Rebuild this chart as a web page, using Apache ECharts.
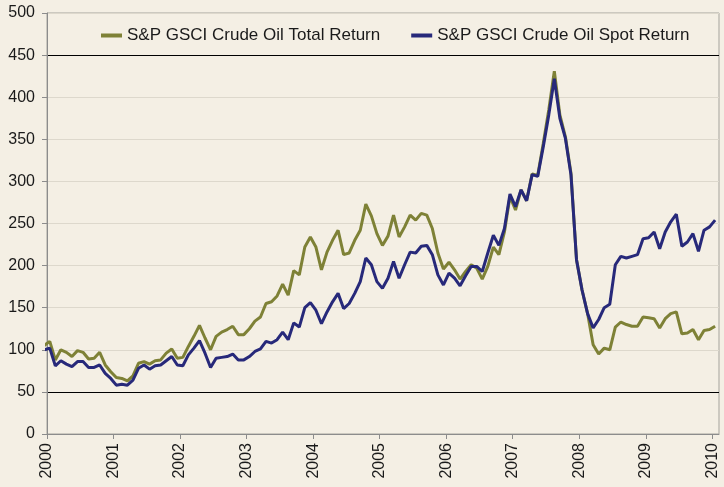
<!DOCTYPE html>
<html>
<head>
<meta charset="utf-8">
<script src="https://cdn.jsdelivr.net/npm/echarts@6/dist/echarts.min.js"></script>
<style>
  html, body { margin: 0; padding: 0; background: #f4efe4; }
  #chart { width: 724px; height: 487px; }
</style>
</head>
<body>
<div id="chart"></div>
<script>
// monthly index levels, first value is the base just before Jan 2000
const totalReturn = [105,
  110, 88, 100, 97, 92, 99, 97, 89, 90, 97, 82, 74, 67, 66, 63, 69, 84, 86, 83, 87, 88,
  96, 101, 90, 91, 104, 116, 129, 114, 100, 116, 121, 124, 128, 118, 118, 125, 134, 139,
  155, 157, 164, 178, 165, 194, 189, 222, 234, 222, 195, 216, 230, 242, 213, 215, 230, 242, 273, 259, 238,
  224, 235, 260, 234, 246, 260, 254, 262, 260, 244, 215, 196, 204, 195, 184, 193, 201, 197, 184,
  199, 222, 213, 240, 282, 266, 290, 277, 309, 307, 345, 385, 431, 379, 353, 310, 207, 171, 143,
  106, 95, 102, 100, 127, 133, 130, 128, 128, 139, 138, 137, 126, 137, 143, 145, 119, 120, 124, 112, 123, 124, 128];

const spotReturn = [100,
  102, 81, 87, 83, 80, 86, 86, 79, 79, 82, 72, 66, 58, 59, 58, 64, 78, 82, 77, 81, 82,
  87, 92, 82, 81, 94, 102, 111, 96, 79, 90, 91, 92, 95, 88, 88, 92, 98, 101,
  110, 108, 112, 121, 112, 132, 127, 150, 156, 147, 131, 145, 157, 167, 149, 155, 167, 181, 209, 201, 181,
  173, 185, 205, 185, 201, 216, 215, 223, 224, 213, 189, 177, 191, 185, 176, 188, 199, 199, 193,
  215, 236, 224, 244, 285, 270, 290, 277, 308, 306, 341, 379, 422, 375, 351, 308, 207, 171, 143,
  126, 136, 150, 154, 201, 211, 209, 211, 213, 232, 233, 240, 220, 240, 252, 261, 223, 228, 238, 217, 242, 246, 254];

const yearTicks = [2000, 2001, 2002, 2003, 2004, 2005, 2006, 2007, 2008, 2009, 2010];
const seriesNames = ['S&P GSCI Crude Oil Total Return', 'S&P GSCI Crude Oil Spot Return'];

// mid-month positions in years
const toPoints = (arr) => arr.map((v, i) => [2000 + (i - 0.5) / 12, v]);

// gridlines at 50 and 450 are black, the rest pale
const gridColors = yearTicks.map((_, i) => (i === 1 || i === 9) ? '#000000' : '#ddd8cc');

const font = '"Liberation Sans", Arial, sans-serif';

let myecharts = echarts.init(document.getElementById('chart'));
myecharts.setOption({
  backgroundColor: '#f4efe4',
  animation: false,
  textStyle: { fontFamily: font },
  legend: {
    top: 22,
    left: 96,
    itemWidth: 21,
    itemHeight: 4,
    itemGap: 31,
    icon: 'rect',
    textStyle: { fontSize: 17, color: '#1a1a1a', fontFamily: font },
    data: seriesNames,
  },
  grid: {
    left: 47,
    right: 5,
    top: 13,
    bottom: 53,
    show: true,
    borderColor: '#a5a39c',
    borderWidth: 1,
  },
  xAxis: {
    type: 'value',
    min: 2000,
    max: 2010.1,
    interval: 1,
    splitLine: { show: false },
    axisLine: { lineStyle: { color: '#8c8c8c' } },
    axisTick: { show: true, length: 5, inside: false, customValues: yearTicks, lineStyle: { color: '#8c8c8c' } },
    axisLabel: {
      rotate: 90,
      margin: 9,
      fontSize: 16,
      color: '#1a1a1a',
      customValues: yearTicks,
      formatter: (v) => String(Math.round(v)),
    },
  },
  yAxis: {
    type: 'value',
    min: 0,
    max: 500,
    interval: 50,
    axisLine: { show: true, lineStyle: { color: '#8c8c8c' } },
    axisTick: { show: true, length: 5, lineStyle: { color: '#8c8c8c' } },
    axisLabel: { fontSize: 16, color: '#1a1a1a', margin: 12 },
    splitLine: { show: true, lineStyle: { color: gridColors, width: 1 } },
  },
  series: [
    {
      name: seriesNames[0],
      type: 'line',
      data: toPoints(totalReturn),
      showSymbol: false,
      symbol: 'none',
      lineStyle: { width: 3, color: '#7e8136' },
      itemStyle: { color: '#7e8136' },
    },
    {
      name: seriesNames[1],
      type: 'line',
      data: toPoints(spotReturn),
      showSymbol: false,
      symbol: 'none',
      lineStyle: { width: 3, color: '#27297a' },
      itemStyle: { color: '#27297a' },
    },
  ],
});
</script>
</body>
</html>
